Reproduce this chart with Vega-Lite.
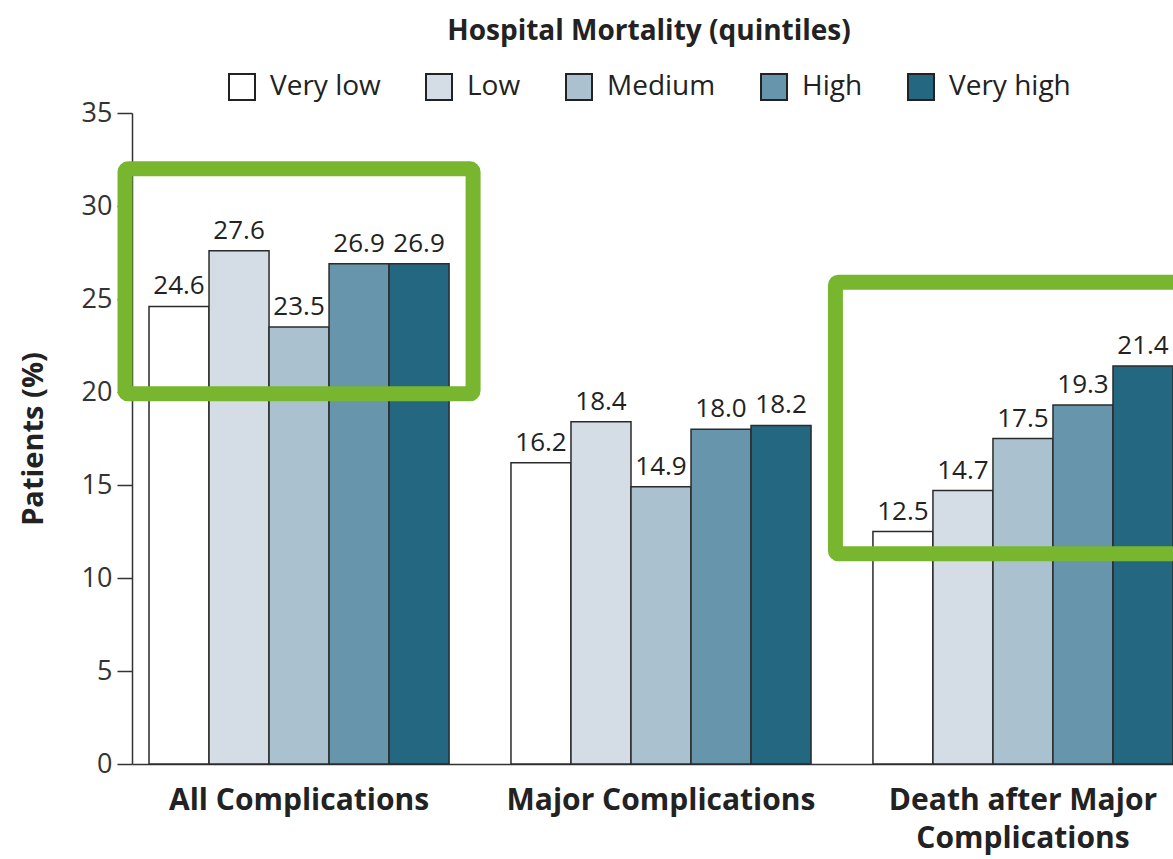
{
  "$schema": "https://vega.github.io/schema/vega-lite/v6.json",
  "width": 1041,
  "height": 651,
  "autosize": {"type": "none"},
  "padding": {"left": 132, "top": 113, "right": 0, "bottom": 95},
  "background": "white",
  "config": {"view": {"stroke": null}, "font": "Open Sans"},
  "datasets": {
    "bars": [
      {"category": "All Complications", "mortality": "Very low", "value": 24.6},
      {"category": "All Complications", "mortality": "Low", "value": 27.6},
      {"category": "All Complications", "mortality": "Medium", "value": 23.5},
      {"category": "All Complications", "mortality": "High", "value": 26.9},
      {"category": "All Complications", "mortality": "Very high", "value": 26.9},
      {"category": "Major Complications", "mortality": "Very low", "value": 16.2},
      {"category": "Major Complications", "mortality": "Low", "value": 18.4},
      {"category": "Major Complications", "mortality": "Medium", "value": 14.9},
      {"category": "Major Complications", "mortality": "High", "value": 18.0},
      {"category": "Major Complications", "mortality": "Very high", "value": 18.2},
      {"category": "Death after Major Complications", "mortality": "Very low", "value": 12.5},
      {"category": "Death after Major Complications", "mortality": "Low", "value": 14.7},
      {"category": "Death after Major Complications", "mortality": "Medium", "value": 17.5},
      {"category": "Death after Major Complications", "mortality": "High", "value": 19.3},
      {"category": "Death after Major Complications", "mortality": "Very high", "value": 21.4}
    ],
    "box1": [{"category": "All Complications", "low": 19.9, "high": 32.0}],
    "box3": [{"category": "Death after Major Complications", "low": 11.3, "high": 25.9}]
  },
  "layer": [
    {
      "data": {"name": "bars"},
      "mark": {"type": "bar", "stroke": "#2b2b2b", "strokeWidth": 1.5},
      "encoding": {
        "x": {
          "field": "category", "type": "nominal",
          "sort": ["All Complications", "Major Complications", "Death after Major Complications"],
          "scale": {"paddingInner": 0.171, "paddingOuter": 0.0235, "align": 1},
          "axis": {
            "title": null, "labelAngle": 0, "ticks": false,
            "domainColor": "#333333", "domainWidth": 1.5,
            "labelFontSize": 30, "labelFontWeight": "bold", "labelColor": "#222222",
            "labelPadding": 21, "labelLimit": 0, "labelLineHeight": 38,
            "labelExpr": "datum.value == 'Death after Major Complications' ? ['Death after Major', 'Complications'] : datum.value"
          }
        },
        "xOffset": {"field": "mortality", "type": "nominal", "sort": ["Very low", "Low", "Medium", "High", "Very high"]},
        "y": {
          "field": "value", "type": "quantitative", "title": "Patients (%)",
          "scale": {"domain": [0, 35], "nice": false},
          "axis": {
            "values": [0, 5, 10, 15, 20, 25, 30, 35], "grid": false,
            "tickSize": 15, "tickWidth": 1.5, "tickColor": "#333333",
            "domainColor": "#333333", "domainWidth": 1.5,
            "labelFontSize": 27, "labelColor": "#333333", "labelPadding": 5,
            "titleFontSize": 29, "titleFontWeight": "bold", "titleColor": "#222222", "titlePadding": 33
          }
        },
        "color": {
          "field": "mortality", "type": "nominal",
          "sort": ["Very low", "Low", "Medium", "High", "Very high"],
          "scale": {
            "domain": ["Very low", "Low", "Medium", "High", "Very high"],
            "range": ["#ffffff", "#d4dde5", "#aac2d0", "#6795ab", "#246781"]
          },
          "legend": {
            "orient": "none", "legendX": 96, "legendY": -95, "direction": "horizontal",
            "title": "Hospital Mortality (quintiles)", "titleFontSize": 28, "titleFontWeight": "bold",
            "titleColor": "#222222", "titleAnchor": "middle", "titlePadding": 27, "titleLimit": 0,
            "labelFontSize": 28, "labelColor": "#222222", "labelOffset": 14, "labelLimit": 0,
            "columnPadding": 41, "symbolType": "square", "symbolSize": 676,
            "symbolStrokeColor": "#222222", "symbolStrokeWidth": 2, "symbolOpacity": 1
          }
        }
      }
    },
    {
      "data": {"name": "bars"},
      "mark": {"type": "text", "baseline": "alphabetic", "dy": -12, "fontSize": 26, "color": "#222222"},
      "encoding": {
        "x": {"field": "category", "type": "nominal", "sort": ["All Complications", "Major Complications", "Death after Major Complications"]},
        "xOffset": {"field": "mortality", "type": "nominal", "sort": ["Very low", "Low", "Medium", "High", "Very high"]},
        "y": {"field": "value", "type": "quantitative", "title": "Patients (%)", "scale": {"domain": [0, 35], "nice": false}},
        "text": {"field": "value", "type": "quantitative", "format": ".1f"}
      }
    },
    {
      "data": {"name": "box1"},
      "mark": {"type": "rect", "filled": false, "stroke": "#78b630", "strokeWidth": 15, "cornerRadius": 3, "width": {"band": 1.16}},
      "encoding": {
        "x": {"field": "category", "type": "nominal", "sort": ["All Complications", "Major Complications", "Death after Major Complications"]},
        "y": {"field": "high", "type": "quantitative", "title": "Patients (%)", "scale": {"domain": [0, 35], "nice": false}},
        "y2": {"field": "low"}
      }
    },
    {
      "data": {"name": "box3"},
      "mark": {"type": "rect", "filled": false, "stroke": "#78b630", "strokeWidth": 15, "cornerRadius": 3, "width": {"band": 1.25}, "clip": true},
      "encoding": {
        "x": {"field": "category", "type": "nominal", "sort": ["All Complications", "Major Complications", "Death after Major Complications"]},
        "y": {"field": "high", "type": "quantitative", "title": "Patients (%)", "scale": {"domain": [0, 35], "nice": false}},
        "y2": {"field": "low"}
      }
    }
  ]
}
